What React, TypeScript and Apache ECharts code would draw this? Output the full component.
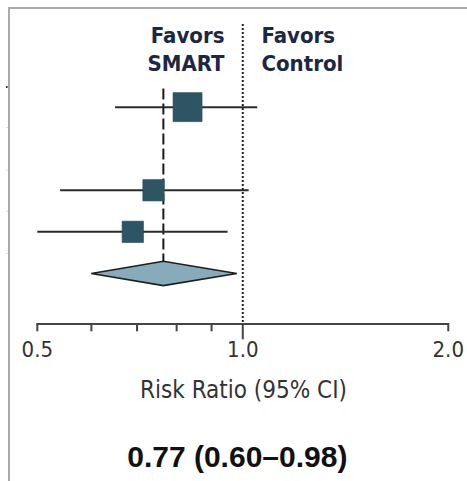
import React, { useEffect, useRef } from "react";
import * as echarts from "echarts";

// ---- data ----
const studyRows = [0, 2, 3];
const studyRR = [0.83, 0.74, 0.69];
const studyLow = [0.65, 0.54, 0.5];
const studyHigh = [1.05, 1.02, 0.95];
const studyWeight = [48, 26, 26];

const pooledRow = 4;
const pooledRR = 0.765;
const pooledLow = 0.6;
const pooledHigh = 0.98;
const pooledText = "0.77 (0.60–0.98)";

const nullValue = 1.0;
const xTickValues = [0.5, 0.6, 0.7, 0.8, 0.9, 1.0, 2.0];
const xLabelValues = [0.5, 1.0, 2.0];
const axisTitle = "Risk Ratio (95% CI)";
const leftHeader = ["Favors", "SMART"];
const rightHeader = ["Favors", "Control"];

const Y_MIN = -2;
const Y_MAX = 5.2;
const COND = "'DejaVu Sans Condensed', 'Liberation Sans Narrow', sans-serif";

export default function App() {
  const ref = useRef<HTMLDivElement>(null);

  useEffect(() => {
    if (!ref.current) return;
    const chart = echarts.init(ref.current, null, { renderer: "svg" });

    const studyData = studyRows.map((r, i) => [studyRR[i], r, studyLow[i], studyHigh[i], studyWeight[i]]);
    const pooledData = [[pooledRR, pooledRow, pooledLow, pooledHigh]];
    const tickData = xTickValues.map((v) => [v, Y_MAX]);

    const headerStyle = (text: string, align: string) => ({
      text,
      align,
      verticalAlign: "middle",
      fontFamily: COND,
      fontWeight: "bold",
      fontSize: 22,
      fill: "#1c2742",
    });

    const option: any = {
      animation: false,
      grid: { left: 37.3, right: 17, top: 24, bottom: 157.7 },
      xAxis: {
        type: "log",
        logBase: 2,
        min: 0.5,
        max: 2,
        interval: 1,
        axisLine: { onZero: false, lineStyle: { color: "#444", width: 2 } },
        axisTick: { show: false },
        splitLine: { show: false },
        axisLabel: {
          margin: 26,
          verticalAlign: "middle",
          color: "#333",
          fontFamily: COND,
          fontSize: 22,
          showMinLabel: true,
          showMaxLabel: true,
          formatter: (v: number) => {
            const hit = xLabelValues.find((t) => Math.abs(t - v) < 1e-6);
            return hit !== undefined ? hit.toFixed(1) : "";
          },
        },
      },
      yAxis: { type: "value", inverse: true, min: Y_MIN, max: Y_MAX, show: false },
      series: [
        {
          type: "custom",
          clip: false,
          silent: true,
          data: tickData,
          encode: { x: 0, y: 1 },
          renderItem: (params: any, api: any) => {
            const v = api.value(0);
            const p = api.coord([v, Y_MAX]);
            const len = Math.abs(v - nullValue) < 1e-6 ? 16 : 8;
            return {
              type: "line",
              shape: { x1: p[0], y1: p[1], x2: p[0], y2: p[1] + len },
              style: { stroke: "#444", lineWidth: 2 },
            };
          },
        },
        {
          type: "custom",
          clip: false,
          silent: true,
          data: [[nullValue, Y_MIN]],
          encode: { x: 0, y: 1 },
          renderItem: (params: any, api: any) => {
            const top = api.coord([api.value(0), Y_MIN]);
            const bot = api.coord([api.value(0), Y_MAX]);
            return {
              type: "line",
              shape: { x1: top[0], y1: top[1], x2: bot[0], y2: bot[1] },
              style: { stroke: "#222", lineWidth: 2, lineDash: [2, 2] },
            };
          },
        },
        {
          type: "custom",
          clip: false,
          silent: true,
          data: pooledData,
          encode: { x: [0, 2, 3], y: 1 },
          renderItem: (params: any, api: any) => {
            const c = api.coord([api.value(0), api.value(1)]);
            const l = api.coord([api.value(2), api.value(1)]);
            const h = api.coord([api.value(3), api.value(1)]);
            const t = api.coord([api.value(0), -0.45]);
            const hh = 12.2;
            return {
              type: "group",
              children: [
                {
                  type: "line",
                  shape: { x1: c[0], y1: t[1], x2: c[0], y2: c[1] - hh },
                  style: { stroke: "#1a1a1a", lineWidth: 2, lineDash: [11, 4] },
                },
                {
                  type: "polygon",
                  shape: {
                    points: [
                      [l[0], c[1]],
                      [c[0], c[1] - hh],
                      [h[0], c[1]],
                      [c[0], c[1] + hh],
                    ],
                  },
                  style: { fill: "#88abbc", stroke: "#1e1e1e", lineWidth: 1.6 },
                },
              ],
            };
          },
        },
        {
          type: "custom",
          clip: false,
          silent: true,
          data: studyData,
          encode: { x: [0, 2, 3], y: 1 },
          renderItem: (params: any, api: any) => {
            const c = api.coord([api.value(0), api.value(1)]);
            const l = api.coord([api.value(2), api.value(1)]);
            const h = api.coord([api.value(3), api.value(1)]);
            const s = Math.sqrt(api.value(4)) * 4.19;
            return {
              type: "group",
              children: [
                {
                  type: "line",
                  shape: { x1: l[0], y1: c[1], x2: h[0], y2: c[1] },
                  style: { stroke: "#2b2b2b", lineWidth: 2 },
                },
                {
                  type: "rect",
                  shape: { x: c[0] - s / 2, y: c[1] - s / 2, width: s, height: s },
                  style: { fill: "#2d5564", stroke: "#2a4d59", lineWidth: 0.6 },
                },
              ],
            };
          },
        },
      ],
      graphic: [
        {
          type: "polyline",
          shape: { points: [[9, 481], [9, 8], [467, 8]] },
          style: { stroke: "#ababab", lineWidth: 2, fill: null },
          silent: true,
        },
        { type: "rect", shape: { x: 6, y: 86, width: 1.5, height: 2 }, style: { fill: "#222" } },
        { type: "rect", shape: { x: 6.5, y: 127, width: 1, height: 1 }, style: { fill: "#bbb" } },
        { type: "rect", shape: { x: 6.5, y: 169.5, width: 1, height: 1 }, style: { fill: "#bbb" } },
        { type: "rect", shape: { x: 6.5, y: 211, width: 1, height: 1 }, style: { fill: "#bbb" } },
        { type: "rect", shape: { x: 6.5, y: 253, width: 1, height: 1 }, style: { fill: "#bbb" } },
        { type: "text", x: 224.5, y: 35, style: headerStyle(leftHeader[0], "right") },
        { type: "text", x: 224.5, y: 63, style: headerStyle(leftHeader[1], "right") },
        { type: "text", x: 261.5, y: 35, style: headerStyle(rightHeader[0], "left") },
        { type: "text", x: 261.5, y: 63, style: headerStyle(rightHeader[1], "left") },
        {
          type: "text",
          x: 243.5,
          y: 390,
          style: { text: axisTitle, align: "center", verticalAlign: "middle", fontFamily: COND, fontSize: 24, fill: "#333" },
        },
        {
          type: "text",
          x: 237.3,
          y: 456.7,
          style: { text: pooledText, align: "center", verticalAlign: "middle", fontFamily: "'Liberation Sans', Arial, sans-serif", fontWeight: "bold", fontSize: 30, fill: "#111" },
        },
      ],
    };

    chart.setOption(option);
    return () => chart.dispose();
  }, []);

  return <div ref={ref} style={{ position: "fixed", left: 0, top: 0, width: 467, height: 481, background: "#fff" }} />;
}
